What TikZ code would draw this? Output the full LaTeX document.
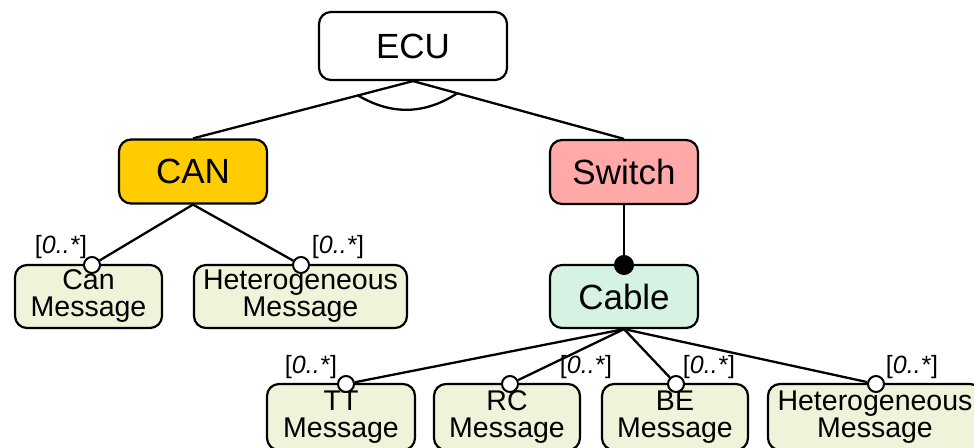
\documentclass[tikz,border=0pt]{standalone}
\usepackage{fontspec}
\setmainfont{Liberation Sans}
\usetikzlibrary{calc}
\definecolor{cangold}{HTML}{FFCC00}
\definecolor{switchpink}{HTML}{FFA9A9}
\definecolor{cablegreen}{HTML}{D5F2E3}
\definecolor{msggreen}{HTML}{EEF3DA}
\tikzset{
  feat/.style={draw, line width=2.2pt, rounded corners=12pt, inner sep=0pt,
    minimum width=148pt, minimum height=64pt, align=center,
    font=\fontsize{35}{40}\selectfont},
  msg/.style={draw, line width=2.2pt, rounded corners=12pt, inner sep=0pt,
    minimum height=63pt, fill=msggreen, align=center,
    font=\fontsize{28.5}{27}\selectfont},
  opt/.style={circle, draw, line width=2pt, fill=white, minimum size=16pt, inner sep=0pt},
  mand/.style={circle, draw, line width=2pt, fill=black, minimum size=18pt, inner sep=0pt},
  card/.style={inner sep=0pt, font=\fontsize{25}{28}\selectfont},
  conn/.style={line width=2.3pt}
}
\newcommand{\cardtxt}{[\textit{0..*}]}
\begin{document}
\begin{tikzpicture}[x=1pt,y=-1pt]
\useasboundingbox (0,0) rectangle (974,447);
\clip (0,0) rectangle (974,447);
% connectors drawn first, under the boxes
\coordinate (ecuS) at (413,80);
% main features
\node[feat, fill=white, minimum width=188pt, minimum height=68pt] (ecu) at (413,46) {ECU};
\node[feat, fill=cangold] (can) at (193,171.5) {CAN};
\node[feat, fill=switchpink] (sw) at (624,172) {Switch};
\node[feat, fill=cablegreen, minimum height=63pt] (cable) at (624,296.5) {Cable};
% message boxes (second row)
\node[msg, minimum width=147pt] (canmsg) at (88.5,296.5) {Can\\Message};
\node[msg, minimum width=213pt] (hetmsg) at (300.5,296.5) {Heterogeneous\\Message};
% message boxes (bottom row)
\node[msg, minimum width=148pt, minimum height=66pt] (tt) at (341,417) {TT\\Message};
\node[msg, minimum width=146pt, minimum height=66pt] (rc) at (507,417) {RC\\Message};
\node[msg, minimum width=146pt, minimum height=66pt] (be) at (675,417) {BE\\Message};
\node[msg, minimum width=214pt, minimum height=66pt] (het) at (875,417) {Heterogeneous\\Message};
% connectors
\draw[conn] (ecu.south) -- (can.north);
\draw[conn] (ecu.south) -- (sw.north);
\draw[conn] ($(ecu.south)!0.25!(can.north)$) to[bend right=32] ($(ecu.south)!0.21!(sw.north)$);
\node[opt] (ccan) at (92,265) {};
\node[opt] (chet) at (301,265) {};
\draw[conn] (can.south) -- (ccan);
\draw[conn] (can.south) -- (chet);
\node[card] (lcan) at (61,247) {\cardtxt};
\node[card] (lhet) at (338,247) {\cardtxt};
\node[mand] (mcable) at (624,265) {};
\draw[conn] (sw.south) -- (mcable);
\node[opt] (ctt) at (346,384) {};
\node[opt] (crc) at (510,384) {};
\node[opt] (cbe) at (676,384) {};
\node[opt] (chet2) at (876,384) {};
\draw[conn] (cable.south) -- (ctt);
\draw[conn] (cable.south) -- (crc);
\draw[conn] (cable.south) -- (cbe);
\draw[conn] (cable.south) -- (chet2);
\node[card] (ltt) at (311,367) {\cardtxt};
\node[card] (lrc) at (586,367) {\cardtxt};
\node[card] (lbe) at (709,367) {\cardtxt};
\node[card] (lhet2) at (912,367) {\cardtxt};
\end{tikzpicture}
\end{document}
